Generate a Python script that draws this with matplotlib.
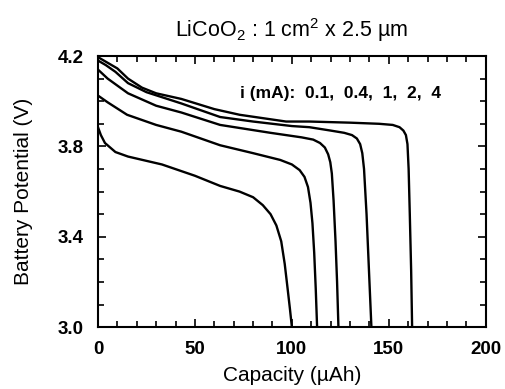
import matplotlib
matplotlib.use("Agg")
import matplotlib.pyplot as plt
from matplotlib.ticker import MultipleLocator, FixedLocator

plt.rcParams['font.family'] = ['Liberation Sans', 'DejaVu Sans']
plt.rcParams['mathtext.fontset'] = 'custom'
plt.rcParams['mathtext.rm'] = 'Liberation Sans'

# Discharge curves, one per current
cap_01 = [0, 5, 10, 15.5, 22.7, 30, 43, 60, 73, 97, 109, 130, 145, 152, 155.5, 157.5, 158.8, 159.6, 160.2, 160.8, 161.5, 162]
v_01 = [4.195, 4.17, 4.145, 4.10, 4.06, 4.035, 4.01, 3.965, 3.94, 3.91, 3.91, 3.905, 3.90, 3.895, 3.885, 3.87, 3.85, 3.81, 3.7, 3.5, 3.25, 3.0]

cap_04 = [0, 4, 9, 15.5, 25, 43, 63, 80, 100, 109, 120, 127, 131, 133.5, 135.2, 136.3, 137.2, 138.5, 140, 141]
v_04 = [4.18, 4.16, 4.13, 4.08, 4.04, 3.99, 3.93, 3.91, 3.89, 3.885, 3.87, 3.86, 3.85, 3.835, 3.81, 3.77, 3.7, 3.5, 3.2, 3.0]

cap_1 = [0, 5, 15.5, 30, 43, 63, 89, 105, 111, 114.5, 117, 118.7, 119.8, 120.6, 121.5, 122.5, 123.3, 124]
v_1 = [4.14, 4.10, 4.035, 3.98, 3.95, 3.895, 3.86, 3.84, 3.83, 3.815, 3.795, 3.765, 3.73, 3.68, 3.56, 3.38, 3.2, 3.0]

cap_2 = [0, 5, 15, 30, 43, 63, 80, 94, 100, 104, 106.5, 108.3, 109.6, 110.6, 111.5, 112.3, 113]
v_2 = [4.025, 3.995, 3.94, 3.895, 3.865, 3.805, 3.77, 3.74, 3.72, 3.695, 3.665, 3.62, 3.55, 3.46, 3.33, 3.17, 3.0]

cap_4 = [0, 1.5, 3.6, 9, 15.5, 33, 50, 63, 73, 80, 85, 89, 92, 94.5, 96.3, 97.8, 99, 100]
v_4 = [3.885, 3.85, 3.815, 3.775, 3.755, 3.72, 3.67, 3.625, 3.6, 3.575, 3.54, 3.5, 3.45, 3.38, 3.28, 3.17, 3.08, 3.0]

curves = [(cap_01, v_01), (cap_04, v_04), (cap_1, v_1), (cap_2, v_2), (cap_4, v_4)]

yticks = [3.0, 3.4, 3.8, 4.2]

fig = plt.figure(figsize=(5.05, 3.89), dpi=100)
ax = fig.add_axes([0.194, 0.159, 0.768, 0.697])

for cap, v in curves:
    ax.plot(cap, v, color='black', lw=1.7, solid_capstyle='round', solid_joinstyle='round')

ax.set_xlim(0, 200)
ax.set_ylim(3.0, 4.2)
ax.xaxis.set_major_locator(MultipleLocator(50))
ax.xaxis.set_minor_locator(MultipleLocator(10))
ax.yaxis.set_major_locator(FixedLocator(yticks))
ax.yaxis.set_minor_locator(MultipleLocator(0.1))
ax.yaxis.set_major_formatter(plt.FuncFormatter(lambda y, p: f"{y:.1f}"))
ax.tick_params(which='both', direction='in', top=True, right=True, width=1.2)
ax.tick_params(which='major', length=6, labelsize=13.5, pad=10)
ax.tick_params(which='minor', length=4)
for lab in ax.get_xticklabels() + ax.get_yticklabels():
    lab.set_fontweight('bold')
for s in ax.spines.values():
    s.set_linewidth(1.5)

ax.set_xlabel('Capacity (\u00b5Ah)', fontsize=15, labelpad=6)
ax.set_ylabel('Battery Potential (V)', fontsize=15, labelpad=18)
ax.set_title('LiCoO$_2$ : 1 cm$^2$ x 2.5 \u00b5m', fontsize=15.5, pad=14)

ax.text(0.365, 0.862, 'i (mA):  0.1,  0.4,  1,  2,  4', transform=ax.transAxes,
        fontsize=12.5, fontweight='bold', va='center')

fig.savefig('out.png', dpi=100)
